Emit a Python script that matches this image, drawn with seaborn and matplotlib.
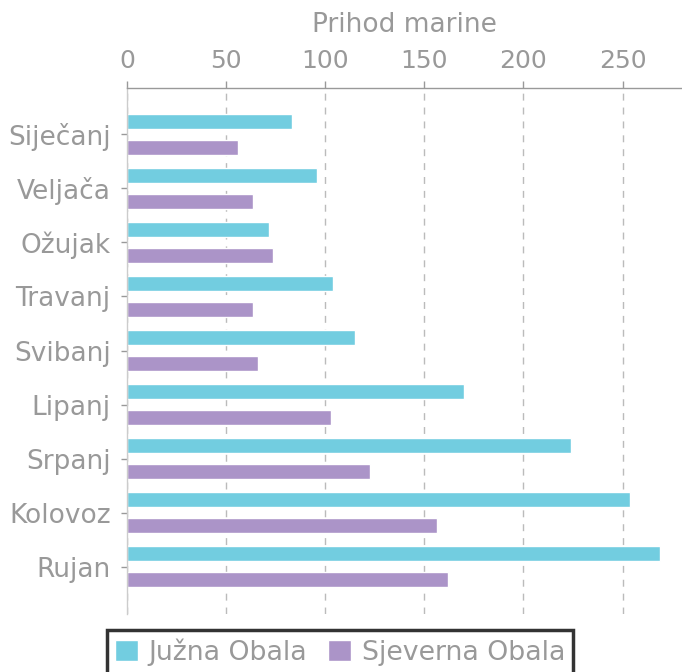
import matplotlib
matplotlib.use("Agg")
import matplotlib.pyplot as plt
import seaborn as sns
import pandas as pd

months = ['Siječanj', 'Veljača', 'Ožujak', 'Travanj', 'Svibanj',
          'Lipanj', 'Srpanj', 'Kolovoz', 'Rujan']
juzna = [83, 96, 71.5, 104, 115, 170, 224, 254, 269]
sjeverna = [56, 63.5, 73.5, 63.5, 66, 103, 122.5, 156.5, 162]
series = ['Južna Obala', 'Sjeverna Obala']

df = pd.DataFrame({
    'mjesec': months * 2,
    'prihod': juzna + sjeverna,
    'obala': [series[0]] * len(months) + [series[1]] * len(months),
})

sns.set_style("white")
plt.rcParams['font.family'] = ['DejaVu Sans']
grey = '#999999'

fig = plt.figure(figsize=(6.82, 6.72), dpi=100)
ax = fig.add_axes([127/682, 1-614/672, (682-127)/682, (614-88.3)/672])

sns.barplot(data=df, y='mjesec', x='prihod', hue='obala', orient='h',
            palette=['#72CDE0', '#AB94C8'], width=0.96, gap=0.422,
            saturation=1, ax=ax, legend=True)

ax.set_xlim(0, 280)
ax.set_ylim(8.875, -0.851)
ax.set_xticks([0, 50, 100, 150, 200, 250])
ax.xaxis.set_ticks_position('top')
ax.xaxis.set_label_position('top')
ax.set_xlabel('Prihod marine', color=grey, fontsize=19, labelpad=12)
ax.set_ylabel('')
ax.tick_params(axis='x', top=True, colors=grey, labelsize=18, length=5, width=1, pad=6)
ax.tick_params(axis='y', left=True, colors=grey, labelsize=19, length=4.3, width=1, pad=7.5)
for lab in ax.get_xticklabels() + ax.get_yticklabels():
    lab.set_color(grey)

ax.grid(axis='x', color='#bbbbbb', linestyle=(0, (5, 5)), linewidth=1)
ax.set_axisbelow(True)
for side in ['right', 'bottom']:
    ax.spines[side].set_visible(False)
for side in ['top', 'left']:
    ax.spines[side].set_color(grey)
    ax.spines[side].set_linewidth(1)
ax.spines['left'].set_color('#cccccc')

handles, labels = ax.get_legend_handles_labels()
ax.get_legend().remove()
leg = fig.legend(handles, labels, loc='upper center', ncol=2,
                 bbox_to_anchor=(0.4985, 1-617/672), fontsize=19.3,
                 frameon=True, fancybox=False, handlelength=0.85, handleheight=0.85,
                 handletextpad=0.4, columnspacing=0.8, borderpad=0.3)
leg.get_frame().set_edgecolor('black')
leg.get_frame().set_linewidth(2.5)
for t in leg.get_texts():
    t.set_color(grey)

fig.savefig('out.png', dpi=100)
